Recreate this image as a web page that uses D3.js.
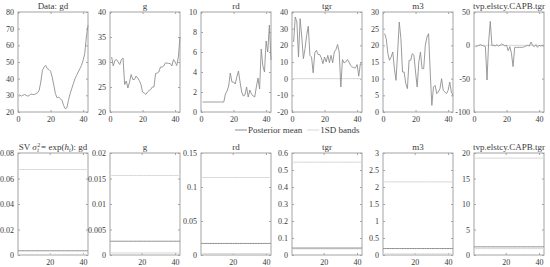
<!DOCTYPE html>
<html>
<head>
<meta charset="utf-8">
<script src="https://cdn.jsdelivr.net/npm/d3@7"></script>
<style>
  body { margin: 0; background: #fff; }
  text { font-family: "Liberation Serif", "Times New Roman", serif; fill: #3a3a3a; }
</style>
</head>
<body>
<div id="chart"></div>
<script>
// periods 1..43
const t = d3.range(1, 44);

// top row: data series
const gd = [30.5, 29.5, 30, 30.5, 30, 29.5, 30, 30.8, 30.5, 30.5, 31, 31.5, 33, 38, 45, 47, 48, 46, 45.5, 44.5,
  41, 36, 31, 28.5, 29, 28, 27, 24, 22, 22.5, 27, 31, 34, 37, 40, 42, 44, 46, 48, 51, 55, 65, 72];
const g = [31, 29.2, 30.3, 30.5, 30, 29.5, 30.5, 30.8, 25.5, 26.2, 24.8, 26, 27.5, 26.5, 26.5, 27.2, 26.8, 26.3, 25.5, 24,
  23.8, 23.5, 24, 24.3, 24.5, 25, 25, 27.7, 27.8, 28, 29, 29, 29.2, 29.8, 29.8, 29.7, 29.7, 29.2, 30.5, 30, 29.3, 31, 35];
const rd = [1, 1, 1, 1, 1, 1, 1, 1, 1, 1, 1, 1, 1, 1, 1.8, 2.1, 2.6, 3.9, 3, 3, 2.8, 3.5, 4.1, 3, 2, 1.6, 1.7, 2.5, 1.5,
  2.2, 1.8, 1.6, 1.5, 2.5, 3.4, 2.3, 6.3, 4.6, 4, 7.1, 6, 8.7, 5.2];
const tgr = [22, 37, 34, 13, 36, 25, 12, 18, 26, 31.5, 14, 13, 3.5, 15.5, 17, 14.5, 14.5, 12.5, 9, 13, 10, 14, 9.5, 14,
  9.5, 16, 17.5, 20.5, 16, -5, 11.5, 9.5, 10, 11.5, 10, 8, 7, 6.5, 6.5, 8.5, 1.5, 9, 8.5];
const m3 = [23.5, 22, 17.5, 15.5, 16.5, 18, 13, 9.5, 18, 27, 22, 12, 12, 8.5, 7, 15.5, 15.5, 17.5, 17, 12, 7.5, 15, 18,
  13, 13, 20, 22.5, 23.5, 12, 2, 7.5, 8, 5.5, 6, 7, 10, 6.5, 6, 5.5, 6.5, 9, 6, 5];
const tvp = [-2, -1, 0, 1, 0, -1, -2, -52, 5, 36, 0, 0, -1, 1, -1, 0, 2, 1, -1, 0, -8, -2, -12, -32, -3, -3, -3, -3, -3,
  -3, -2, -1, 0, -1, 5, 0, -2, 1, -3, 0, -1, 0, -1];

const topTitles = ["Data: gd", "g", "rd", "tgr", "m3", "tvp.elstcy.CAPB.tgr"];
const topSeries = [gd, g, rd, tgr, m3, tvp];
const topDomains = [[20, 80], [20, 40], [0, 10], [-20, 40], [0, 30], [-100, 50]];
const topTicks = [[20, 30, 40, 50, 60, 70, 80], [20, 25, 30, 35, 40], [0, 2, 4, 6, 8, 10],
  [-20, -10, 0, 10, 20, 30, 40], [0, 5, 10, 15, 20, 25, 30], [-100, -50, 0, 50]];
const zeroLine = [false, false, false, true, false, true];

// bottom row: stochastic volatility, constant over t
const svTitles = ["gd", "g", "rd", "tgr", "m3", "tvp.elstcy.CAPB.tgr"];
const svMean = [0.0033, 0.0027, 0.017, 0.041, 0.19, 1.6];
const svLower = [0.0005, 0.0004, 0.002, 0.036, 0.03, 1.25];
const svUpper = [0.067, 0.0156, 0.114, 0.546, 2.15, 19];
const svDomains = [[0, 0.08], [0, 0.02], [0, 0.15], [0, 0.6], [0, 3], [0, 20]];
const svTicks = [[0, 0.02, 0.04, 0.06, 0.08], [0, 0.005, 0.01, 0.015, 0.02], [0, 0.05, 0.1, 0.15],
  [0, 0.1, 0.2, 0.3, 0.4, 0.5, 0.6], [0, 0.5, 1, 1.5, 2, 2.5, 3], [0, 5, 10, 15, 20]];

const width = 550, height = 267;
const lefts = [18, 110, 201, 292, 383, 474];
const pw = 70;
const boxColor = "#a4a4a4", lineColor = "#909090", meanColor = "#8e8e8e", bandColor = "#d6d6d6";

const svg = d3.select("#chart").append("svg")
  .attr("width", width).attr("height", height);

function fmt(v) { return String(+v.toFixed(4)); }

function panel(x0, y0, y1, xDomain, xTicks, yDomain, yTicks) {
  const x = d3.scaleLinear().domain(xDomain).range([x0, x0 + pw]);
  const y = d3.scaleLinear().domain(yDomain).range([y1, y0]);
  const g = svg.append("g");

  g.append("rect").attr("x", x0).attr("y", y0).attr("width", pw).attr("height", y1 - y0)
    .attr("fill", "none").attr("stroke", boxColor).attr("stroke-width", 1);

  // inward ticks, mirrored on the other sides
  const ax = [
    [d3.axisLeft(y).tickValues(yTicks).tickFormat(fmt), x0, 0],
    [d3.axisRight(y).tickValues(yTicks).tickFormat(""), x0 + pw, 0],
    [d3.axisBottom(x).tickValues(xTicks).tickFormat(d3.format("d")), 0, y1],
    [d3.axisTop(x).tickValues(xTicks).tickFormat(""), 0, y0]
  ];
  ax.forEach(([a, tx, ty]) => {
    const s = g.append("g").attr("transform", `translate(${tx},${ty})`)
      .call(a.tickSizeInner(-2).tickSizeOuter(0).tickPadding(4))
      .attr("font-family", "'Liberation Serif', serif");
    s.select(".domain").remove();
    s.selectAll("line").attr("stroke", boxColor);
    s.selectAll("text").attr("font-size", 8).attr("fill", "#3a3a3a");
  });
  return { g, x, y };
}

const line = (x, y) => d3.line().x((d, i) => x(t[i])).y(d => y(d));

// top row
topSeries.forEach((series, k) => {
  const { g, x, y } = panel(lefts[k], 12, 112, [0, 43], [0, 20, 40], topDomains[k], topTicks[k]);
  if (zeroLine[k]) {
    g.append("line").attr("x1", x(0)).attr("x2", x(43)).attr("y1", y(0)).attr("y2", y(0))
      .attr("stroke", bandColor).attr("stroke-width", 1);
  }
  g.append("path").datum(series).attr("fill", "none").attr("stroke", lineColor)
    .attr("stroke-width", 0.9).attr("d", line(x, y));
  g.append("text").attr("x", lefts[k] + pw / 2).attr("y", 9).attr("text-anchor", "middle")
    .attr("font-size", 9).text(topTitles[k]);
});

// bottom row
svTitles.forEach((name, k) => {
  const { g, x, y } = panel(lefts[k], 153, 255, [1, 43], [20, 40], svDomains[k], svTicks[k]);
  const flat = v => t.map(() => v);
  [[svUpper[k], bandColor], [svLower[k], bandColor], [svMean[k], meanColor]].forEach(([v, c]) => {
    g.append("path").datum(flat(v)).attr("fill", "none").attr("stroke", c)
      .attr("stroke-width", 1).attr("d", line(x, y));
  });
  const title = g.append("text").attr("x", lefts[k] + pw / 2).attr("y", 150)
    .attr("text-anchor", "middle").attr("font-size", 9);
  if (k === 0) {
    title.append("tspan").text("SV ");
    title.append("tspan").attr("font-style", "italic").text("σ");
    title.append("tspan").attr("font-size", 6).attr("dy", -3).attr("dx", 0.5).text("2");
    title.append("tspan").attr("font-size", 6).attr("font-style", "italic").attr("dy", 5).attr("dx", -3).text("t");
    title.append("tspan").attr("dy", -2).text(" = exp(");
    title.append("tspan").attr("font-style", "italic").text("h");
    title.append("tspan").attr("font-size", 6).attr("font-style", "italic").attr("dy", 2).text("t");
    title.append("tspan").attr("dy", -2).text("):  " + name);
  } else {
    title.text(name);
  }
});

// legend
const legendItems = [["Posterior mean", meanColor], ["1SD bands", bandColor]];
const lg = svg.append("g").attr("transform", "translate(235,130)");
let lx = 0;
legendItems.forEach(([label, c]) => {
  lg.append("line").attr("x1", lx).attr("x2", lx + 12).attr("y1", 0).attr("y2", 0)
    .attr("stroke", c).attr("stroke-width", 1);
  const txt = lg.append("text").attr("x", lx + 13).attr("y", 3).attr("font-size", 9).text(label);
  lx += 13 + txt.node().getComputedTextLength() + 5;
});
</script>
</body>
</html>
